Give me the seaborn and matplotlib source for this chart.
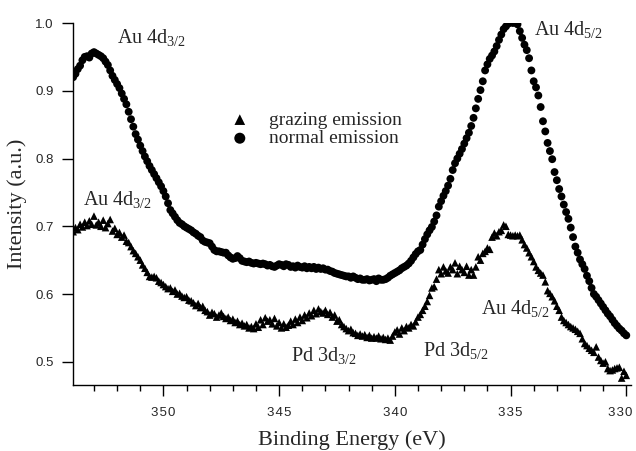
import matplotlib
matplotlib.use("Agg")
import matplotlib.pyplot as plt
import matplotlib.transforms as mtransforms
import numpy as np
import pandas as pd
import seaborn as sns
from matplotlib.ticker import FuncFormatter

# binding energy grid, 0.1 eV steps from 353.9 down to 330.0
E_START, E_STOP = 353.9, 330.0

# normal emission (circles), one row per eV
normal = [
    0.920, 0.925, 0.932, 0.937, 0.945, 0.950, 0.951, 0.949, 0.955, 0.957,
    0.955, 0.953, 0.951, 0.948, 0.943, 0.938, 0.930, 0.922, 0.916, 0.910,
    0.904, 0.896, 0.888, 0.880, 0.869, 0.858, 0.847, 0.836, 0.828, 0.819,
    0.811, 0.803, 0.796, 0.789, 0.783, 0.777, 0.771, 0.765, 0.759, 0.752,
    0.744, 0.734, 0.724, 0.719, 0.714, 0.709, 0.705, 0.703, 0.700, 0.698,
    0.696, 0.694, 0.691, 0.689, 0.686, 0.684, 0.679, 0.677, 0.676, 0.675,
    0.670, 0.665, 0.663, 0.663, 0.662, 0.661, 0.661, 0.657, 0.654, 0.652,
    0.653, 0.656, 0.653, 0.649, 0.648, 0.647, 0.648, 0.646, 0.645, 0.646,
    0.645, 0.644, 0.645, 0.644, 0.642, 0.643, 0.641, 0.640, 0.642, 0.644,
    0.643, 0.641, 0.644, 0.643, 0.640, 0.641, 0.639, 0.642, 0.640, 0.639,
    0.641, 0.638, 0.640, 0.638, 0.640, 0.637, 0.639, 0.637, 0.638, 0.636,
    0.636, 0.634, 0.633, 0.631, 0.630, 0.629, 0.628, 0.627, 0.626, 0.626,
    0.624, 0.626, 0.624, 0.622, 0.623, 0.621, 0.621, 0.622, 0.620, 0.621,
    0.622, 0.619, 0.623, 0.621, 0.621, 0.622, 0.624, 0.627, 0.629, 0.631,
    0.633, 0.635, 0.638, 0.640, 0.642, 0.645, 0.649, 0.654, 0.659, 0.663,
    0.665, 0.673, 0.681, 0.688, 0.694, 0.699, 0.707, 0.716, 0.729, 0.737,
    0.745, 0.752, 0.760, 0.770, 0.783, 0.793, 0.800, 0.807, 0.814, 0.822,
    0.830, 0.838, 0.848, 0.860, 0.874, 0.888, 0.901, 0.914, 0.930, 0.939,
    0.947, 0.952, 0.958, 0.966, 0.975, 0.983, 0.991, 0.995, 0.999, 1.001,
    1.000, 1.001, 0.998, 0.988, 0.978, 0.968, 0.960, 0.948, 0.930, 0.914,
    0.905, 0.893, 0.876, 0.855, 0.840, 0.823, 0.811, 0.799, 0.780, 0.768,
    0.755, 0.744, 0.732, 0.721, 0.711, 0.698, 0.684, 0.670, 0.661, 0.651,
    0.644, 0.637, 0.627, 0.619, 0.609, 0.600, 0.596, 0.591, 0.586, 0.581,
    0.576, 0.571, 0.567, 0.562, 0.557, 0.553, 0.549, 0.546, 0.542, 0.539,
]

# grazing emission (triangles)
grazing = [
    0.692, 0.698, 0.695, 0.703, 0.699, 0.706, 0.701, 0.708, 0.703, 0.715,
    0.702, 0.706, 0.700, 0.709, 0.698, 0.704, 0.710, 0.693, 0.697, 0.688,
    0.691, 0.684, 0.687, 0.678, 0.676, 0.670, 0.664, 0.660, 0.655, 0.650,
    0.643, 0.638, 0.632, 0.626, 0.625, 0.626, 0.624, 0.619, 0.617, 0.614,
    0.611, 0.608, 0.609, 0.604, 0.606, 0.600, 0.601, 0.597, 0.595, 0.596,
    0.591, 0.590, 0.587, 0.583, 0.586, 0.580, 0.582, 0.576, 0.574, 0.569,
    0.573, 0.571, 0.566, 0.569, 0.572, 0.567, 0.564, 0.566, 0.561, 0.563,
    0.558, 0.560, 0.555, 0.557, 0.553, 0.555, 0.550, 0.552, 0.549, 0.556,
    0.551, 0.562, 0.555, 0.565, 0.560, 0.562, 0.556, 0.564, 0.553, 0.558,
    0.550, 0.556, 0.551, 0.554, 0.560, 0.555, 0.563, 0.558, 0.566, 0.561,
    0.569, 0.565, 0.572, 0.568, 0.576, 0.571, 0.578, 0.574, 0.572, 0.576,
    0.570, 0.573, 0.566, 0.569, 0.560, 0.562, 0.555, 0.552, 0.549, 0.546,
    0.548, 0.543, 0.542, 0.539, 0.541, 0.538, 0.540, 0.536, 0.539, 0.535,
    0.537, 0.535, 0.538, 0.534, 0.536, 0.533, 0.535, 0.532, 0.538, 0.544,
    0.547, 0.541, 0.550, 0.546, 0.552, 0.550, 0.555, 0.553, 0.559, 0.566,
    0.570, 0.576, 0.582, 0.589, 0.598, 0.609, 0.611, 0.622, 0.636, 0.630,
    0.640, 0.634, 0.631, 0.640, 0.636, 0.646, 0.630, 0.641, 0.636, 0.632,
    0.641, 0.628, 0.636, 0.628, 0.640, 0.655, 0.650, 0.660, 0.663, 0.668,
    0.666, 0.684, 0.690, 0.686, 0.692, 0.694, 0.702, 0.700, 0.688, 0.687,
    0.686, 0.687, 0.686, 0.687, 0.680, 0.673, 0.668, 0.661, 0.655, 0.648,
    0.640, 0.635, 0.631, 0.628, 0.618, 0.605, 0.601, 0.596, 0.590, 0.582,
    0.576, 0.566, 0.561, 0.558, 0.555, 0.552, 0.550, 0.548, 0.545, 0.542,
    0.534, 0.527, 0.524, 0.520, 0.517, 0.514, 0.522, 0.507, 0.502, 0.498,
    0.500, 0.490, 0.487, 0.488, 0.490, 0.491, 0.492, 0.476, 0.486, 0.480,
]

energy = np.linspace(E_START, E_STOP, len(normal))

peak_labels = [
    ("Au 4d$_{\\mathrm{3/2}}$", 350.5, 0.979),
    ("Au 4d$_{\\mathrm{3/2}}$", 352.0, 0.739),
    ("Au 4d$_{\\mathrm{5/2}}$", 332.5, 0.991),
    ("Au 4d$_{\\mathrm{5/2}}$", 334.8, 0.578),
    ("Pd 3d$_{\\mathrm{3/2}}$", 343.05, 0.510),
    ("Pd 3d$_{\\mathrm{5/2}}$", 337.35, 0.517),
]

sns.set_style("ticks")
plt.rcParams["font.family"] = ["Liberation Serif", "DejaVu Serif"]
plt.rcParams["mathtext.fontset"] = "custom"
plt.rcParams["mathtext.rm"] = "Liberation Serif"
plt.rcParams["mathtext.it"] = "Liberation Serif:italic"

df = pd.DataFrame({"energy": energy, "normal": normal, "grazing": grazing})

fig = plt.figure(figsize=(6.36, 4.51), dpi=100)
ax = fig.add_axes([0.115, 0.146, 0.877, 0.803])

sns.scatterplot(data=df, x="energy", y="grazing", marker="^", s=30,
                color="black", edgecolor="none", label="grazing emission", ax=ax)
sns.scatterplot(data=df, x="energy", y="normal", marker="o", s=32,
                color="black", edgecolor="none", label="normal emission", ax=ax)

ax.set_xlim(353.9, 329.8)
ax.set_ylim(0.4655, 1.0)
ax.set_xticks([350, 345, 340, 335, 330])
ax.set_xticks(np.arange(330, 354, 1), minor=True)
ax.set_yticks([0.5, 0.6, 0.7, 0.8, 0.9, 1.0])
# slightly spaced-out digits like the scanned figure
ax.xaxis.set_major_formatter(FuncFormatter(lambda v, p: "\u200a".join(f"{v:.0f}")))
ax.tick_params(axis="both", which="major", direction="out", length=8, width=1,
               color="black")
ax.tick_params(axis="x", which="minor", direction="out", length=4, width=1,
               color="black")
ax.tick_params(axis="x", which="major", pad=8)
ax.tick_params(axis="y", which="major", pad=6)
for lab in ax.get_xticklabels() + ax.get_yticklabels():
    lab.set_fontfamily(["Liberation Sans", "DejaVu Sans"])
    lab.set_fontsize(9.5)
# keep the last label (330) inside the figure edge
last = ax.xaxis.get_major_ticks()[-1].label1
last.set_transform(last.get_transform() + mtransforms.ScaledTranslation(-6 / 100, 0, fig.dpi_scale_trans))
sns.despine(ax=ax)
for sp in ("left", "bottom"):
    ax.spines[sp].set_color("black")
    ax.spines[sp].set_linewidth(1)

ax.set_xlabel("Binding Energy (eV)", fontsize=16, labelpad=8)
ax.set_ylabel("Intensity (a.u.)", fontsize=16, labelpad=6)

for text, x, y in peak_labels:
    ax.text(x, y, text, fontsize=14.5, ha="center", va="center")

leg = ax.legend(loc="upper left", bbox_to_anchor=(0.25, 0.805), frameon=False,
                fontsize=14, handletextpad=1.0, labelspacing=0.05,
                handlelength=1.0, markerscale=1.4)

fig.savefig("out.png", dpi=100)
